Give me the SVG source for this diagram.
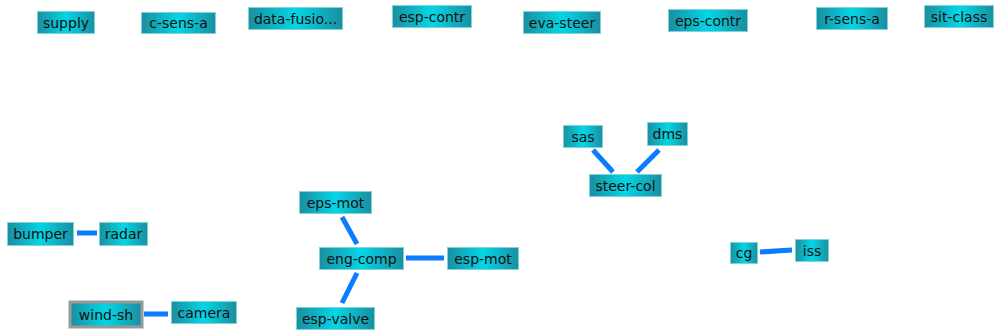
<svg xmlns="http://www.w3.org/2000/svg" width="996" height="333" viewBox="0 0 996 333">
<defs>
<linearGradient id="g" x1="0" y1="0" x2="1" y2="0">
<stop offset="0" stop-color="#1a8f9f"/>
<stop offset="0.5" stop-color="#04d6e6"/>
<stop offset="1" stop-color="#1a8f9f"/>
</linearGradient>
</defs>
<style>
.n rect{fill:url(#g);stroke:#7fd3dc;stroke-width:1}
.n text{font-family:"DejaVu Sans","Liberation Sans",sans-serif;font-size:14px;fill:#111;text-anchor:middle;dominant-baseline:central}
.sel rect{stroke:#999;stroke-width:3}
#edges line{stroke:#0a7dff;stroke-width:5;stroke-linecap:butt}
</style>
<rect width="996" height="333" fill="#fff"/>
<g id="edges">
<line x1="593" y1="150" x2="613" y2="172"/>
<line x1="659" y1="150" x2="637" y2="172"/>
<line x1="77" y1="233" x2="97" y2="233"/>
<line x1="144" y1="314" x2="168" y2="314"/>
<line x1="342" y1="217" x2="357" y2="244"/>
<line x1="406" y1="258" x2="444" y2="258"/>
<line x1="357" y1="273" x2="342" y2="303"/>
<line x1="760" y1="252" x2="792" y2="250"/>
</g>
<g id="supply" class="n"><rect x="37.5" y="11.5" width="57" height="22"/><text x="66" y="22.5">supply</text></g>
<g id="c-sens-a" class="n"><rect x="141.5" y="12.5" width="74" height="21"/><text x="178.5" y="23">c-sens-a</text></g>
<g id="data-fusio" class="n"><rect x="248.5" y="7.5" width="94" height="22"/><text x="295.5" y="18.5">data-fusio...</text></g>
<g id="esp-contr" class="n"><rect x="392.5" y="5.5" width="79" height="22"/><text x="432" y="16.5">esp-contr</text></g>
<g id="eva-steer" class="n"><rect x="523.5" y="11.5" width="77" height="22"/><text x="562" y="22.5">eva-steer</text></g>
<g id="eps-contr" class="n"><rect x="668.5" y="9.5" width="79" height="22"/><text x="708" y="20.5">eps-contr</text></g>
<g id="r-sens-a" class="n"><rect x="816.5" y="7.5" width="71" height="22"/><text x="852" y="18.5">r-sens-a</text></g>
<g id="sit-class" class="n"><rect x="924.5" y="5.5" width="69" height="22"/><text x="959" y="16.5">sit-class</text></g>
<g id="sas" class="n"><rect x="563.5" y="125.5" width="39" height="22"/><text x="583" y="136.5">sas</text></g>
<g id="dms" class="n"><rect x="647.5" y="122.5" width="40" height="23"/><text x="667.5" y="134">dms</text></g>
<g id="steer-col" class="n"><rect x="589.5" y="174.5" width="72" height="22"/><text x="625.5" y="185.5">steer-col</text></g>
<g id="bumper" class="n"><rect x="7.5" y="222.5" width="66" height="23"/><text x="40.5" y="234">bumper</text></g>
<g id="radar" class="n"><rect x="99.5" y="222.5" width="48" height="23"/><text x="123.5" y="234">radar</text></g>
<g id="wind-sh" class="n sel"><rect x="70" y="302" width="72" height="25"/><text x="106" y="314.5">wind-sh</text></g>
<g id="camera" class="n"><rect x="171.5" y="301.5" width="65" height="22"/><text x="204" y="312.5">camera</text></g>
<g id="eps-mot" class="n"><rect x="299.5" y="191.5" width="72" height="22"/><text x="335.5" y="202.5">eps-mot</text></g>
<g id="eng-comp" class="n"><rect x="319.5" y="247.5" width="84" height="22"/><text x="361.5" y="258.5">eng-comp</text></g>
<g id="esp-mot" class="n"><rect x="447.5" y="247.5" width="71" height="22"/><text x="483" y="258.5">esp-mot</text></g>
<g id="esp-valve" class="n"><rect x="296.5" y="307.5" width="78" height="22"/><text x="335.5" y="318.5">esp-valve</text></g>
<g id="cg" class="n"><rect x="730.5" y="242.5" width="27" height="21"/><text x="744" y="253">cg</text></g>
<g id="iss" class="n"><rect x="795.5" y="239.5" width="33" height="22"/><text x="812" y="250.5">iss</text></g>
</svg>
